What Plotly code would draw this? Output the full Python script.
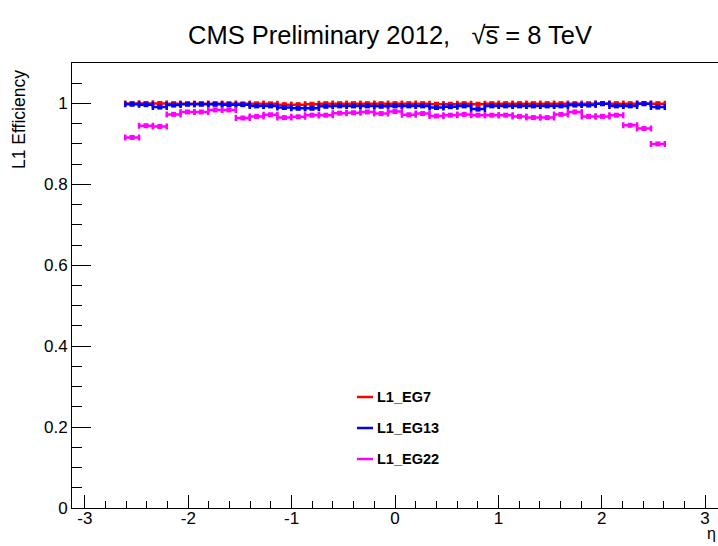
import numpy as np
import plotly.graph_objects as go

# ---- data ----
eta_min, eta_max, n_bins = -2.61, 2.61, 39

eff_eg7 = [1.000, 1.000, 1.000, 0.9995, 0.9995, 0.9995, 0.9995, 0.9995, 0.999, 0.999,
           0.999, 0.997, 0.997, 0.998, 0.9995, 0.9995, 0.9995, 0.9995, 0.9995, 0.9995,
           0.9995, 0.9995, 0.998, 0.998, 0.9995, 0.998, 0.9995, 0.9995, 0.9995, 0.9995,
           0.9995, 0.9995, 0.9995, 0.9995, 0.9995, 0.9995, 0.9995, 0.9995, 0.9995]
eff_eg13 = [0.998, 0.997, 0.991, 0.996, 0.998, 0.998, 0.998, 0.997, 0.997, 0.994,
            0.994, 0.990, 0.988, 0.988, 0.993, 0.994, 0.994, 0.994, 0.993, 0.994,
            0.994, 0.994, 0.990, 0.992, 0.994, 0.986, 0.994, 0.994, 0.994, 0.994,
            0.994, 0.994, 0.996, 0.996, 0.9995, 0.994, 0.994, 0.9995, 0.991]
eff_eg22 = [0.916, 0.945, 0.943, 0.973, 0.979, 0.979, 0.984, 0.984, 0.964, 0.968,
            0.972, 0.965, 0.967, 0.971, 0.971, 0.976, 0.977, 0.979, 0.975, 0.980,
            0.972, 0.975, 0.969, 0.971, 0.973, 0.971, 0.971, 0.971, 0.968, 0.965,
            0.965, 0.973, 0.979, 0.968, 0.968, 0.971, 0.946, 0.938, 0.900]
err_eg7 = [0.001] * n_bins
err_eg13 = [0.0015] * n_bins
err_eg22 = [0.003] * n_bins

series_names = ["L1_EG7", "L1_EG13", "L1_EG22"]
series_colors = ["#ff0000", "#0000ff", "#ff00ff"]

x_tick_vals = [-3, -2, -1, 0, 1, 2, 3]
x_tick_text = ["-3", "-2", "-1", "0", "1", "2", "3"]
y_tick_vals = [0, 0.2, 0.4, 0.6, 0.8, 1.0]
y_tick_text = ["0", "0.2", "0.4", "0.6", "0.8", "1"]

edges = np.linspace(eta_min, eta_max, n_bins + 1)
centers = 0.5 * (edges[:-1] + edges[1:])
half_w = 0.5 * (edges[1:] - edges[:-1])

FONT = "Liberation Sans, Arial, sans-serif"
W, H = 718, 546
L, R, T, B = 72, 0, 63, 38
PW, PH = W - L - R, H - T - B


def px_x(px):
    return (px - L) / PW


def px_y(py):
    return (H - B - py) / PH


fig = go.Figure()
for name, color, eff, err in zip(series_names, series_colors,
                                 [eff_eg7, eff_eg13, eff_eg22],
                                 [err_eg7, err_eg13, err_eg22]):
    fig.add_trace(go.Scatter(
        x=centers, y=eff, mode="markers", name=name, showlegend=False,
        marker=dict(symbol="square", size=5, color=color),
        error_x=dict(type="data", array=half_w, symmetric=True, color=color,
                     thickness=2.5, width=3),
        error_y=dict(type="data", array=err, symmetric=True, color=color,
                     thickness=2.5, width=0),
    ))

# legend (ROOT-style box-less legend)
leg_y = [397, 428, 459]
for name, color, yy in zip(series_names, series_colors, leg_y):
    fig.add_shape(type="line", xref="paper", yref="paper",
                  x0=px_x(357), x1=px_x(373), y0=px_y(yy), y1=px_y(yy),
                  line=dict(color=color, width=2.5))
    fig.add_annotation(text="<b>%s</b>" % name, xref="paper", yref="paper",
                       x=px_x(375), y=px_y(yy),
                       xanchor="left", yanchor="middle", showarrow=False,
                       font=dict(family=FONT, size=14.5, color="black"))

# axis titles
fig.add_annotation(text="L1 Efficiency", xref="paper", yref="paper",
                   x=px_x(19), y=px_y(120),
                   xanchor="center", yanchor="middle", textangle=-90,
                   showarrow=False, font=dict(family=FONT, size=17.5, color="black"))
fig.add_annotation(text="η", xref="paper", yref="paper",
                   x=px_x(711), y=px_y(533),
                   xanchor="center", yanchor="middle", borderpad=0,
                   showarrow=False, font=dict(family=FONT, size=16, color="black"))

fig.update_layout(
    width=W, height=H,
    margin=dict(l=L, r=R, t=T, b=B),
    paper_bgcolor="white", plot_bgcolor="white",
    font=dict(family=FONT, size=17, color="black"),
    title=dict(text="CMS Preliminary 2012,   √s\u0305 = 8 TeV",
               x=px_x(390), xref="paper", xanchor="center",
               y=1 - 35 / H, yref="container", yanchor="middle",
               font=dict(family=FONT, size=25.5, color="black")),
    showlegend=False,
)
fig.update_xaxes(range=[-3.125, 3.125], tickvals=x_tick_vals, ticktext=x_tick_text,
                 showgrid=False, zeroline=False,
                 showline=True, linecolor="black", linewidth=1, mirror=True,
                 ticks="inside", ticklen=13, tickcolor="black", tickwidth=1,
                 ticklabelstandoff=-5,
                 minor=dict(ticks="inside", ticklen=7, dtick=0.2, tick0=0,
                            tickcolor="black", tickwidth=1, showgrid=False),
                 tickfont=dict(family=FONT, size=17, color="black"))
fig.update_yaxes(range=[0, 1.1], tickvals=y_tick_vals, ticktext=y_tick_text,
                 showgrid=False, zeroline=False,
                 showline=True, linecolor="black", linewidth=1, mirror=True,
                 ticks="inside", ticklen=19, tickcolor="black", tickwidth=1,
                 minor=dict(ticks="inside", ticklen=10, dtick=0.05, tick0=0,
                            tickcolor="black", tickwidth=1, showgrid=False),
                 tickfont=dict(family=FONT, size=17, color="black"))

fig.write_html("out.html", config={"displayModeBar": False},
               post_script="document.body.style.margin='0';")
